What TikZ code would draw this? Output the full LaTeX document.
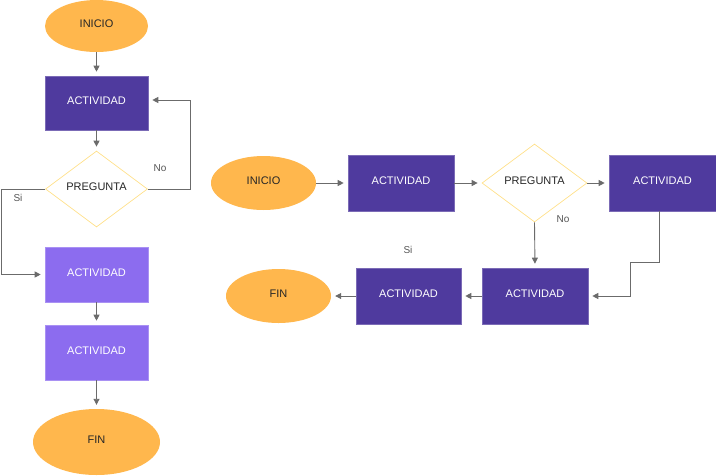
\documentclass[tikz,border=0pt]{standalone}
\usepackage{fontspec}
\setmainfont{Liberation Sans}
\usetikzlibrary{shapes.geometric,arrows.meta}
\definecolor{orng}{HTML}{FFB74D}
\definecolor{dpurp}{HTML}{4F3A9E}
\definecolor{lpurp}{HTML}{8C6CEF}
\definecolor{dyel}{HTML}{FFE08A}
\definecolor{agray}{HTML}{6B6B6B}
\definecolor{lgray}{HTML}{555555}
\begin{document}
\begin{tikzpicture}[x=1pt,y=-1pt,
  txt/.style={font=\fontsize{11}{13}\selectfont, text height=8pt, text depth=5pt},
  term/.style={ellipse, fill=orng, inner sep=0pt, text=black!85, txt},
  actbox/.style={rectangle, fill=dpurp, draw=dpurp!75!white, line width=0.6pt, inner sep=0pt, text=white, txt},
  actlight/.style={actbox, fill=lpurp, draw=lpurp!75!white},
  quest/.style={diamond, draw=dyel, line width=0.7pt, inner sep=0pt, text=black!85, txt},
  arr/.style={draw=agray, line width=0.9pt, -{Triangle[length=6pt,width=6pt]}, shorten >=4pt},
  lbl/.style={text=lgray, font=\fontsize{10}{12}\selectfont}]
\useasboundingbox (0,0) rectangle (716,475);
% left flow
\node[term, minimum width=103pt, minimum height=52pt] (ini1) at (96.5,26) {INICIO};
\node[actbox, minimum width=103pt, minimum height=54pt] (act1) at (96.5,103) {ACTIVIDAD};
\node[quest, minimum width=102pt, minimum height=76pt] (q1) at (96.5,189) {PREGUNTA};
\node[actlight, minimum width=103pt, minimum height=55pt] (act2) at (96.5,274.5) {ACTIVIDAD};
\node[actlight, minimum width=103pt, minimum height=55pt] (act3) at (96.5,352.5) {ACTIVIDAD};
\node[term, minimum width=127pt, minimum height=66pt] (fin1) at (96.5,442) {FIN};
\node[lbl] (no1) at (160,168) {No};
\node[lbl] (si1) at (18,198) {Si};
\coordinate (lr) at (190,189);
\coordinate (ll) at (1,189);
\draw[arr] (ini1.south) -- (act1.north);
\draw[arr] (act1.south) -- (q1.north);
\draw[arr] (q1.east) -- (lr) |- ([yshift=3pt]act1.east);
\draw[arr] (q1.west) -- (ll) |- (act2.west);
\draw[arr] (act2.south) -- (act3.north);
\draw[arr] (act3.south) -- (fin1.north);
% right flow
\node[term, minimum width=105pt, minimum height=54pt] (ini2) at (263.5,183) {INICIO};
\node[actbox, minimum width=106pt, minimum height=56pt] (act4) at (401,183) {ACTIVIDAD};
\node[quest, minimum width=105pt, minimum height=78pt] (q2) at (534.5,183) {PREGUNTA};
\node[actbox, minimum width=107pt, minimum height=56pt] (act5) at (662.5,183) {ACTIVIDAD};
\node[actbox, minimum width=106pt, minimum height=56pt] (act6) at (535,296) {ACTIVIDAD};
\node[actbox, minimum width=105pt, minimum height=56pt] (act7) at (408.5,296) {ACTIVIDAD};
\node[term, minimum width=105pt, minimum height=54pt] (fin2) at (278.5,296) {FIN};
\node[lbl] (no2) at (563,219) {No};
\node[lbl] (si2) at (408,250) {Si};
\coordinate (s1) at (659,262);
\coordinate (s2) at (630,262);
\draw[arr] (ini2.east) -- (act4.west);
\draw[arr] (act4.east) -- (q2.west);
\draw[arr] (q2.east) -- (act5.west);
\draw[arr] (q2.south) -- (act6.north);
\draw[arr] ([xshift=-3.5pt]act5.south) -- (s1) -- (s2) |- (act6.east);
\draw[arr] (act6.west) -- (act7.east);
\draw[arr] (act7.west) -- (fin2.east);
\end{tikzpicture}
\end{document}
